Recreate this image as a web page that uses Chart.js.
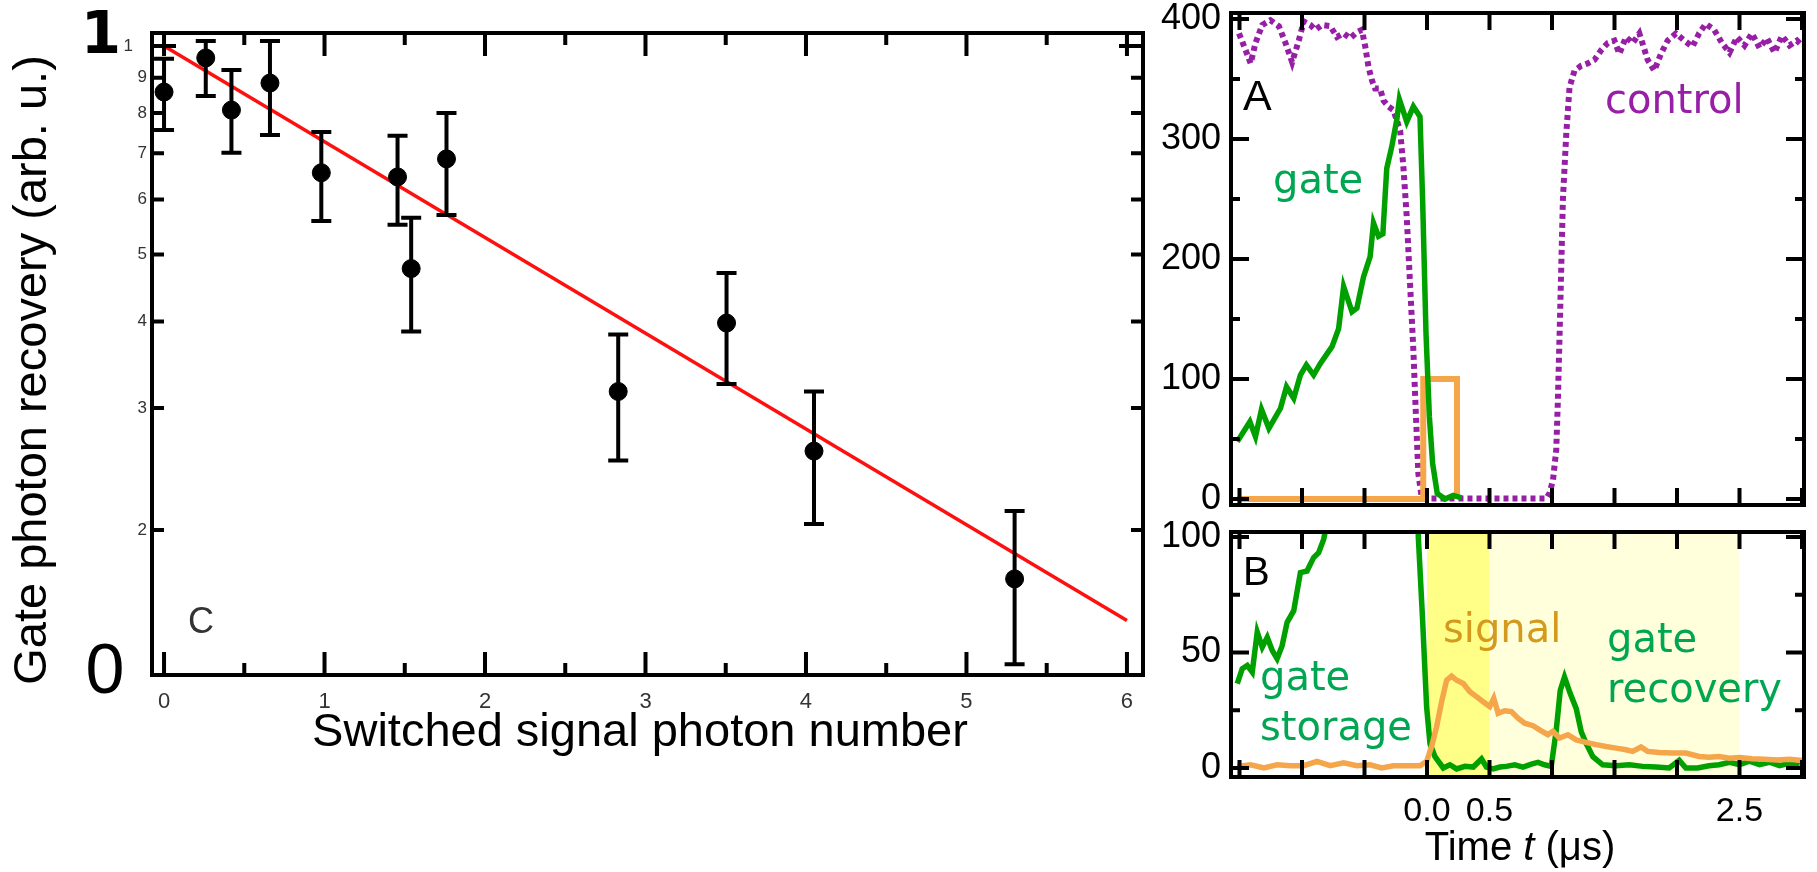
<!DOCTYPE html>
<html>
<head>
<meta charset="utf-8">
<script src="https://cdn.jsdelivr.net/npm/chart.js@4.4.1/dist/chart.umd.min.js"></script>
<style>
  html, body { margin: 0; padding: 0; background: #fff; overflow: hidden; }
  #wrap { position: relative; width: 1817px; height: 872px; }
  #wrap canvas { position: absolute; left: 0; top: 0; }
</style>
</head>
<body>
<div id="wrap">
  <canvas id="chartC" width="1817" height="872"></canvas>
  <canvas id="chartA" width="1817" height="872"></canvas>
  <canvas id="chartB" width="1817" height="872"></canvas>
</div>
<script>
// ---- panel C: recovery vs switched photon number ----
const photonNumber = [0, 0.26, 0.42, 0.66, 0.98, 1.455, 1.54, 1.76, 2.83, 3.505, 4.05, 5.30];
const recovery     = [0.858, 0.961, 0.808, 0.884, 0.656, 0.647, 0.477, 0.687, 0.317, 0.398, 0.260, 0.170];
const recoveryLow  = [0.756, 0.847, 0.701, 0.744, 0.559, 0.552, 0.387, 0.570, 0.252, 0.325, 0.204, 0.128];
const recoveryHigh = [0.958, 1.017, 0.923, 1.017, 0.751, 0.742, 0.565, 0.800, 0.383, 0.470, 0.317, 0.213];
const fitNumber   = [0, 6];
const fitRecovery = [1.0, 0.148];
const cTickValues = [0.2, 0.3, 0.4, 0.5, 0.6, 0.7, 0.8, 0.9, 1.0];
const cTickLabels = ['2', '3', '4', '5', '6', '7', '8', '9', '1'];
const cXTicks = [0, 1, 2, 3, 4, 5, 6];
const cXMinor = [0.5, 1.5, 2.5, 3.5, 4.5, 5.5];

// ---- panel A: time traces ----
const controlT = [-1.504,-1.451,-1.411,-1.372,-1.318,-1.252,-1.185,-1.132,-1.079,-1.026,-0.986,-0.933,-0.893,-0.840,-0.774,-0.720,-0.667,-0.614,-0.561,-0.521,-0.494,-0.468,-0.441,-0.415,-0.375,-0.348,-0.308,-0.268,-0.215,-0.189,-0.162,-0.136,-0.109,-0.088,-0.069,-0.042,-0.002,0.954,0.981,1.008,1.034,1.047,1.061,1.074,1.087,1.114,1.140,1.180,1.233,1.286,1.340,1.393,1.446,1.499,1.539,1.592,1.646,1.699,1.765,1.818,1.872,1.925,1.991,2.058,2.124,2.177,2.230,2.297,2.36,2.42,2.48,2.54,2.60,2.66,2.72,2.78,2.84,2.90,2.96,3.0];
const controlA = [388,374,363,380,395,399,394,380,364,382,398,395,391,395,394,385,388,384,389,391,377,360,349,342,342,332,327,324,307,277,235,180,124,68,21,1,0.5,0.5,5,16,41,82,138,193,249,304,343,357,361,363,366,374,380,382,371,385,380,388,366,357,371,382,388,382,377,388,396,391,380,372,385,378,388,376,384,372,386,378,382,378];
const gateAT = [-1.518,-1.417,-1.372,-1.324,-1.265,-1.172,-1.124,-1.066,-1.013,-0.965,-0.907,-0.853,-0.760,-0.707,-0.667,-0.600,-0.561,-0.508,-0.455,-0.428,-0.388,-0.353,-0.322,-0.282,-0.242,-0.221,-0.162,-0.109,-0.056,-0.035,-0.008,0.019,0.045,0.082,0.144,0.210,0.277];
const gateA  = [47.8,64.4,52,74.7,58.9,75.6,93.6,83.9,103.3,111.7,103.3,113,127,142,177,156,159,185,202,230,219,221,275.6,293.6,315.8,333,314.4,327,318.6,249,138,68.6,29.7,4.7,0,3,1];
const signalAT = [-1.518, -0.03, -0.03, 0.24, 0.24];
const signalA  = [0, 0, 100, 100, 0];
const aYTicks = [0, 100, 200, 300, 400];
const aYMinor = [50, 150, 250, 350];

// ---- panel B: zoomed time traces ----
const gateStoreT = [-1.518,-1.478,-1.438,-1.398,-1.358,-1.318,-1.278,-1.238,-1.199,-1.159,-1.119,-1.066,-1.013,-0.960,-0.907,-0.867,-0.827,-0.80];
const gateStore  = [36.5,43,44.4,41.5,58.8,52.3,56.6,50.9,47.3,53,63.1,68.1,84.6,85.3,91.1,93.2,99,106];
const gateRecT = [-0.075,-0.069,-0.035,-0.003,0.024,0.064,0.130,0.183,0.237,0.303,0.370,0.436,0.476,0.529,0.582,0.635,0.702,0.768,0.835,0.888,0.941,0.994,1.034,1.066,1.100,1.146,1.194,1.234,1.273,1.327,1.406,1.513,1.619,1.726,1.832,1.938,2.018,2.071,2.164,2.257,2.337,2.42,2.50,2.58,2.66,2.74,2.82,2.90,2.98];
const gateRec  = [112,99.5,63.8,26.4,10.6,4.9,0,1.4,-0.4,0.7,0.4,3.9,0.4,-0.4,0.4,0.7,1.4,0.4,1.7,2.4,1.4,0.7,16.4,33.6,39.4,32.2,25.7,15.7,10.7,4.9,1.4,1.0,1.4,0.7,0.4,0,3.3,0,0,1.0,1.4,2.5,1.5,3,1.5,2.5,1,2,1];
const signalBT = [-1.518,-1.411,-1.305,-1.199,-1.092,-0.986,-0.880,-0.774,-0.667,-0.561,-0.455,-0.362,-0.268,-0.162,-0.056,-0.003,0.037,0.077,0.117,0.157,0.197,0.237,0.290,0.343,0.396,0.449,0.502,0.534,0.569,0.622,0.675,0.728,0.781,0.848,0.901,0.967,1.007,1.060,1.127,1.194,1.273,1.353,1.433,1.513,1.592,1.645,1.712,1.765,1.858,1.964,2.071,2.177,2.257,2.337,2.42,2.50,2.60,2.70,2.80,2.90,3.0];
const signalB  = [0.7,1.4,0,1.4,1.0,1.0,2.9,1.0,2.2,1.0,1.4,0,1.0,1.0,1.0,2.9,9.3,17.9,28.7,38,39.8,38,36.6,33,30.9,28.7,26.6,30.2,23.7,24.8,24.4,21.6,19.4,18.3,16.5,14.4,15.9,13.0,14.4,12.2,11.1,10.1,9.3,8.6,7.9,7.2,9.1,7.2,6.7,6.5,6.5,5.0,4.7,5.0,4.2,4.5,4.0,3.8,3.5,3.8,3.2];
const bYTicks = [0, 50, 100];
const bYMinor = [25, 75];
const timeTicks = [-1.5, -1.0, -0.5, 0, 0.5, 1.0, 1.5, 2.0, 2.5, 3.0];
const bXLabels = [0, 0.5, 2.5];
const shadeBright = [0, 0.5];
const shadeLight = [0.5, 2.5];

const SANS = "'Liberation Sans', Arial, Helvetica, sans-serif";
const HAND = "'Comic Sans MS', 'DejaVu Sans', sans-serif";
const GREEN = '#00a000', GREEN_TXT = '#00a651', ORANGE = '#f5a64a', PURPLE = '#961fa6';

Chart.defaults.font.family = SANS;
Chart.defaults.animation = false;

const pts = (xs, ys) => xs.map((x, i) => ({ x: x, y: ys[i] }));

// force the box size of a scale so the plot area lands where the figure has it
function boxSize(size) {
  return function (s) {
    if (s.isHorizontal()) s.height = size; else s.width = size;
    s.paddingLeft = s.paddingRight = s.paddingTop = s.paddingBottom = 0;
  };
}
function setTicks(values) {
  return function (s) { s.ticks = values.map(v => ({ value: v })); };
}

// frame with inward ticks on all four sides
function frame(cfg) {
  return {
    id: 'frame',
    afterDatasetsDraw(chart) {
      const { ctx, chartArea: a, scales } = chart;
      const x = scales.x, y = scales.y;
      ctx.save();
      ctx.strokeStyle = '#000';
      ctx.lineWidth = cfg.lw;
      ctx.beginPath();
      const xt = (vals, len) => vals.forEach(v => {
        const p = x.getPixelForValue(v);
        ctx.moveTo(p, a.bottom); ctx.lineTo(p, a.bottom - len);
        ctx.moveTo(p, a.top); ctx.lineTo(p, a.top + len);
      });
      const yt = (vals, len) => vals.forEach(v => {
        const p = y.getPixelForValue(v);
        ctx.moveTo(a.left, p); ctx.lineTo(a.left + len, p);
        ctx.moveTo(a.right, p); ctx.lineTo(a.right - len, p);
      });
      xt(cfg.xMajor, cfg.xMajorLen);
      xt(cfg.xMinor || [], cfg.xMinorLen || 0);
      yt(cfg.yMajor, cfg.yMajorLen);
      yt(cfg.yMinor || [], cfg.yMinorLen || 0);
      ctx.stroke();
      ctx.strokeRect(a.left, a.top, a.right - a.left, a.bottom - a.top);
      ctx.restore();
    }
  };
}

function notes(items) {
  return {
    id: 'notes',
    afterDraw(chart) {
      const ctx = chart.ctx;
      items.forEach(n => {
        ctx.save();
        ctx.fillStyle = n.color || '#000';
        ctx.textBaseline = n.baseline || 'alphabetic';
        ctx.translate(n.x, n.y);
        if (n.rotate) ctx.rotate(n.rotate);
        if (n.parts) {
          let w = 0;
          n.parts.forEach(p => { ctx.font = p.font; w += ctx.measureText(p.text).width; });
          let cx = -w / 2;
          ctx.textAlign = 'left';
          n.parts.forEach(p => { ctx.font = p.font; ctx.fillText(p.text, cx, 0); cx += ctx.measureText(p.text).width; });
        } else {
          ctx.font = n.font;
          ctx.textAlign = n.align || 'left';
          ctx.fillText(n.text, 0, 0);
        }
        ctx.restore();
      });
    }
  };
}

const errorBars = {
  id: 'errorBars',
  afterDatasetsDraw(chart) {
    const { ctx, scales: { x, y } } = chart;
    ctx.save();
    ctx.strokeStyle = '#000';
    ctx.lineWidth = 4;
    ctx.beginPath();
    photonNumber.forEach((n, i) => {
      const px = x.getPixelForValue(n);
      const lo = y.getPixelForValue(recoveryLow[i]);
      const hi = y.getPixelForValue(recoveryHigh[i]);
      ctx.moveTo(px, lo); ctx.lineTo(px, hi);
      ctx.moveTo(px - 10, lo); ctx.lineTo(px + 10, lo);
      ctx.moveTo(px - 10, hi); ctx.lineTo(px + 10, hi);
    });
    ctx.stroke();
    ctx.restore();
  }
};

const shading = {
  id: 'shading',
  beforeDatasetsDraw(chart) {
    const { ctx, chartArea: a, scales: { x } } = chart;
    ctx.save();
    ctx.fillStyle = '#ffff88';
    let l = x.getPixelForValue(shadeBright[0]), r = x.getPixelForValue(shadeBright[1]);
    ctx.fillRect(l, a.top, r - l, a.bottom - a.top);
    ctx.fillStyle = '#ffffdc';
    l = x.getPixelForValue(shadeLight[0]); r = x.getPixelForValue(shadeLight[1]);
    ctx.fillRect(l, a.top, r - l, a.bottom - a.top);
    ctx.restore();
  }
};

const noGrid = { display: false, drawTicks: false };
const noBorder = { display: false };

// ---- panel C chart ----
new Chart(document.getElementById('chartC'), {
  type: 'scatter',
  data: {
    datasets: [
      {
        data: pts(photonNumber, recovery),
        backgroundColor: '#000', borderColor: '#000',
        pointRadius: 9, pointHoverRadius: 9
      },
      {
        data: pts(fitNumber, fitRecovery),
        showLine: true, borderColor: '#ff1010', borderWidth: 3.5,
        pointRadius: 0
      }
    ]
  },
  options: {
    responsive: false,
    events: [],
    layout: { padding: { left: 0, top: 33, right: 674, bottom: 0 } },
    plugins: { legend: { display: false }, tooltip: { enabled: false } },
    scales: {
      x: {
        type: 'linear', min: -0.075, max: 6.1,
        grid: noGrid, border: noBorder,
        afterBuildTicks: setTicks(cXTicks), afterFit: boxSize(197),
        ticks: {
          padding: 14, maxRotation: 0, autoSkip: false, color: '#333',
          font: { family: "'Liberation Sans Narrow', " + SANS, size: 22 },
          callback: v => String(v)
        }
      },
      y: {
        type: 'logarithmic', min: 0.1235, max: 1.044,
        grid: noGrid, border: noBorder,
        afterBuildTicks: setTicks(cTickValues), afterFit: boxSize(152),
        ticks: {
          padding: 5, autoSkip: false, color: '#333', font: { size: 17 },
          callback: (v, i) => v === 1 ? cTickLabels[i] + '   ' : cTickLabels[i]
        }
      }
    }
  },
  plugins: [
    errorBars,
    frame({ lw: 4, xMajor: cXTicks, xMajorLen: 23, xMinor: cXMinor, xMinorLen: 12,
            yMajor: [1.0], yMajorLen: 24, yMinor: cTickValues.slice(0, 8), yMinorLen: 12 }),
    notes([
      { text: 'Gate photon recovery (arb. u.)', x: 33, y: 370, rotate: -Math.PI / 2,
        align: 'center', baseline: 'middle', font: '47px ' + SANS },
      { text: 'Switched signal photon number', x: 640, y: 746, align: 'center', font: '47px ' + SANS },
      { text: '1', x: 101, y: 53, align: 'center', font: 'bold 58px ' + HAND },
      { text: '0', x: 105, y: 693, align: 'center', font: '70px ' + SANS },
      { text: 'C', x: 188, y: 633, color: '#333', font: '36px ' + SANS }
    ])
  ]
});

// ---- panel A chart ----
const timeAxis = {
  type: 'linear', min: -1.568, max: 3.016,
  grid: noGrid, border: noBorder
};
const countTicks = { padding: 10, color: '#000', autoSkip: false, font: { size: 36 } };

new Chart(document.getElementById('chartA'), {
  type: 'line',
  data: {
    datasets: [
      { data: pts(gateAT, gateA), borderColor: GREEN, borderWidth: 5.5, pointRadius: 0, clip: 0 },
      { data: pts(signalAT, signalA), borderColor: ORANGE, borderWidth: 6, pointRadius: 0, clip: 0 },
      { data: pts(controlT, controlA), borderColor: PURPLE, borderWidth: 6, borderDash: [5, 4],
        pointRadius: 0, clip: 0 }
    ]
  },
  options: {
    responsive: false,
    events: [],
    layout: { padding: { left: 0, top: 13, right: 13, bottom: 0 } },
    plugins: { legend: { display: false }, tooltip: { enabled: false } },
    scales: {
      x: Object.assign({}, timeAxis, { ticks: { display: false }, afterFit: boxSize(367) }),
      y: {
        type: 'linear', min: -5, max: 405,
        grid: noGrid, border: noBorder,
        afterBuildTicks: setTicks(aYTicks), afterFit: boxSize(1231),
        ticks: countTicks
      }
    }
  },
  plugins: [
    frame({ lw: 4, xMajor: timeTicks, xMajorLen: 17,
            yMajor: aYTicks, yMajorLen: 18, yMinor: aYMinor, yMinorLen: 9 }),
    notes([
      { text: 'A', x: 1243, y: 110, font: '43px ' + SANS },
      { text: 'gate', x: 1273, y: 193, color: GREEN_TXT, font: '40px ' + HAND },
      { text: 'control', x: 1605, y: 113, color: PURPLE, font: '40px ' + HAND }
    ])
  ]
});

// ---- panel B chart ----
new Chart(document.getElementById('chartB'), {
  type: 'line',
  data: {
    datasets: [
      { data: pts(signalBT, signalB), borderColor: ORANGE, borderWidth: 5.5, pointRadius: 0, clip: 0 },
      { data: pts(gateStoreT, gateStore), borderColor: GREEN, borderWidth: 5.5, pointRadius: 0, clip: 0 },
      { data: pts(gateRecT, gateRec), borderColor: GREEN, borderWidth: 5.5, pointRadius: 0, clip: 0 }
    ]
  },
  options: {
    responsive: false,
    events: [],
    layout: { padding: { left: 0, top: 532, right: 13, bottom: 0 } },
    plugins: { legend: { display: false }, tooltip: { enabled: false } },
    scales: {
      x: Object.assign({}, timeAxis, {
        afterBuildTicks: setTicks(bXLabels), afterFit: boxSize(95),
        ticks: { padding: 14, color: '#000', autoSkip: false, maxRotation: 0, font: { size: 34 },
                 callback: v => v.toFixed(1) }
      }),
      y: {
        type: 'linear', min: -3.9, max: 102.2,
        grid: noGrid, border: noBorder,
        afterBuildTicks: setTicks(bYTicks), afterFit: boxSize(1231),
        ticks: countTicks
      }
    }
  },
  plugins: [
    shading,
    frame({ lw: 4, xMajor: timeTicks, xMajorLen: 17,
            yMajor: bYTicks, yMajorLen: 18, yMinor: bYMinor, yMinorLen: 9 }),
    notes([
      { text: 'B', x: 1243, y: 585, font: '40px ' + SANS },
      { text: 'gate', x: 1260, y: 690, color: GREEN_TXT, font: '40px ' + HAND },
      { text: 'storage', x: 1260, y: 740, color: GREEN_TXT, font: '40px ' + HAND },
      { text: 'signal', x: 1443, y: 642, color: '#d49a1e', font: '40px ' + HAND },
      { text: 'gate', x: 1607, y: 652, color: GREEN_TXT, font: '40px ' + HAND },
      { text: 'recovery', x: 1607, y: 702, color: GREEN_TXT, font: '40px ' + HAND },
      { x: 1520, y: 860, parts: [
        { text: 'Time ', font: '40px ' + SANS },
        { text: 't', font: 'italic 40px ' + SANS },
        { text: ' (\u03bcs)', font: '40px ' + SANS }
      ] }
    ])
  ]
});
</script>
</body>
</html>
